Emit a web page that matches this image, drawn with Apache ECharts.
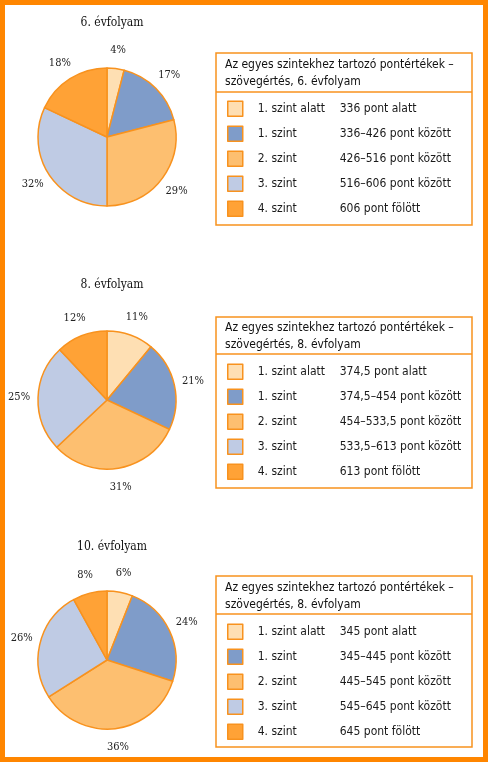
<!DOCTYPE html>
<html><head><meta charset="utf-8">
<script src="https://cdn.jsdelivr.net/npm/echarts@6/dist/echarts.min.js"></script>
<style>html,body{margin:0;padding:0;background:#fff}#c{width:490px;height:763px}</style>
</head><body><div id="c"></div>
<script>
const levels = ['1. szint alatt', '1. szint', '2. szint', '3. szint', '4. szint'];
const grade6 = [4, 17, 29, 32, 18];
const grade8 = [11, 21, 31, 25, 12];
const grade10 = [6, 24, 36, 26, 8];
const ranges6 = ['336 pont alatt', '336–426 pont között', '426–516 pont között', '516–606 pont között', '606 pont fölött'];
const ranges8 = ['374,5 pont alatt', '374,5–454 pont között', '454–533,5 pont között', '533,5–613 pont között', '613 pont fölött'];
const ranges10 = ['345 pont alatt', '345–445 pont között', '445–545 pont között', '545–645 pont között', '645 pont fölött'];
const pieTitles = ['6. évfolyam', '8. évfolyam', '10. évfolyam'];
const boxTitles = [
  'Az egyes szintekhez tartozó pontértékek –\nszövegértés, 6. évfolyam',
  'Az egyes szintekhez tartozó pontértékek –\nszövegértés, 8. évfolyam',
  'Az egyes szintekhez tartozó pontértékek –\nszövegértés, 8. évfolyam'
];

const colors = ['#FEDFB3', '#7F9CC9', '#FDBF70', '#BFCBE4', '#FFA236'];
const ORANGE = '#FF8600';
const EDGE = '#F8921E';
const sansFont = "'DejaVu Sans Condensed', 'Liberation Sans Narrow', 'Roboto', sans-serif";
const serifFont = "'DejaVu Serif Condensed', 'DejaVu Serif', serif";

const panels = [
  { values: grade6, ranges: ranges6, cy: 137, titleY: 23, box: [216, 53, 256, 172], line: 92, headY: 56.5, legTop: 100.5 },
  { values: grade8, ranges: ranges8, cy: 400, titleY: 285, box: [216, 317, 256, 171], line: 354, headY: 319.5, legTop: 363.5 },
  { values: grade10, ranges: ranges10, cy: 660, titleY: 547, box: [216, 576, 256, 171], line: 614, headY: 579.5, legTop: 623.5 }
];

const series = [];
// real pies first (legend takes its colours from them)
panels.forEach(p => {
  series.push({
    type: 'pie',
    center: [107, p.cy],
    radius: 69,
    startAngle: 90,
    clockwise: true,
    animation: false,
    data: levels.map((n, k) => ({ name: n, value: p.values[k], itemStyle: { color: colors[k] } })),
    itemStyle: { borderColor: EDGE, borderWidth: 1.5 },
    label: { show: false },
    labelLine: { show: false },
    emphasis: { disabled: true }
  });
});
// transparent label rings: percentage labels centred just outside the pie
panels.forEach(p => {
  series.push({
    type: 'pie',
    center: [107, p.cy],
    radius: [69, 101],
    startAngle: 90,
    clockwise: true,
    animation: false,
    silent: true,
    data: levels.map((n, k) => ({ name: n, value: p.values[k] })),
    itemStyle: { color: 'rgba(0,0,0,0)', borderWidth: 0 },
    label: {
      show: true, position: 'inside', formatter: '{c}%',
      fontFamily: serifFont, fontSize: 11, color: '#222'
    },
    labelLine: { show: false },
    emphasis: { disabled: true }
  });
});

const legends = panels.map(p => ({
  orient: 'vertical',
  left: 227, top: p.legTop,
  padding: 0,
  itemWidth: 15, itemHeight: 15, itemGap: 8.5,
  selectedMode: false,
  icon: 'rect',
  data: levels,
  itemStyle: { borderColor: EDGE, borderWidth: 1.5 },
  formatter: name => '{a|' + name + '}{b|' + p.ranges[levels.indexOf(name)] + '}',
  textStyle: {
    fontFamily: sansFont, fontSize: 12, color: '#1a1a1a', lineHeight: 15,
    rich: {
      a: { width: 82, padding: [0, 0, 0, 10], fontFamily: sansFont, fontSize: 12, color: '#1a1a1a', lineHeight: 15 },
      b: { fontFamily: sansFont, fontSize: 12, color: '#1a1a1a', lineHeight: 15 }
    }
  }
}));

const graphic = [
  { type: 'rect', shape: { x: 2.5, y: 2.5, width: 483, height: 757 }, style: { fill: 'none', stroke: ORANGE, lineWidth: 5 }, z: 0 }
];
panels.forEach((p, i) => {
  graphic.push({ type: 'rect', shape: { x: p.box[0], y: p.box[1], width: p.box[2], height: p.box[3] }, style: { fill: 'none', stroke: EDGE, lineWidth: 1.5 } });
  graphic.push({ type: 'line', shape: { x1: p.box[0], y1: p.line, x2: p.box[0] + p.box[2], y2: p.line }, style: { stroke: EDGE, lineWidth: 1.5 } });
  graphic.push({ type: 'text', x: 225, y: p.headY, style: { text: boxTitles[i], font: '12px ' + sansFont, fill: '#111', lineHeight: 17 } });
  graphic.push({ type: 'text', x: 112, y: p.titleY, style: { text: pieTitles[i], font: '12px ' + serifFont, fill: '#111', align: 'center', verticalAlign: 'middle' } });
});

const chart = echarts.init(document.getElementById('c'), null, { renderer: 'canvas' });
chart.setOption({
  animation: false,
  backgroundColor: '#fff',
  legend: legends,
  series: series,
  graphic: graphic
});
</script></body></html>
